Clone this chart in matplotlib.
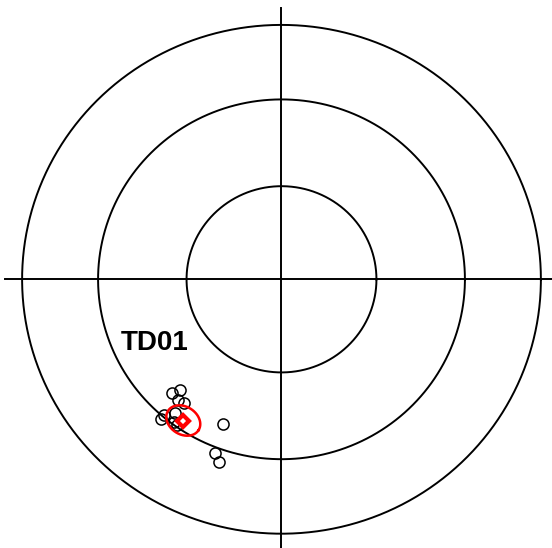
import numpy as np
import matplotlib.pyplot as plt

# site TD01 directions (declination, inclination), upper hemisphere
dec = [223.4, 222.1, 220.0, 217.5, 220.3, 220.3, 218.0, 216.5, 215.1, 201.5, 200.5, 198.5]
inc = [-38.3, -41.0, -38.2, -38.5, -30.7, -29.0, -33.7, -30.9, -30.6, -38.6, -28.1, -25.4]

# Fisher mean and alpha95
mean_dec, mean_inc, a95 = 214.3, -33.2, 5.0

site = "TD01"
inc_circles = [60, 30, 0]


def eqarea(d, i):
    d = np.radians(np.asarray(d, dtype=float))
    i = np.radians(np.abs(np.asarray(i, dtype=float)))
    r = np.sqrt(2) * np.sin((np.pi / 2 - i) / 2)
    return r * np.sin(d), r * np.cos(d)


def small_circle(d0, i0, a, n=200):
    # points at angular distance a around direction (d0, i0)
    d0, i0, a = np.radians(d0), np.radians(abs(i0)), np.radians(a)
    c = np.array([np.cos(i0) * np.cos(d0), np.cos(i0) * np.sin(d0), np.sin(i0)])
    u = np.cross(c, [0, 0, 1.0])
    u /= np.linalg.norm(u)
    v = np.cross(c, u)
    t = np.linspace(0, 2 * np.pi, n)
    p = (np.cos(a) * c[:, None] + np.sin(a) * (np.cos(t) * u[:, None] + np.sin(t) * v[:, None]))
    dd = np.degrees(np.arctan2(p[1], p[0]))
    ii = np.degrees(np.arcsin(p[2]))
    return eqarea(dd, ii)


fig = plt.figure(figsize=(5.52, 5.48), dpi=100)
ax = fig.add_axes([0, 0, 1, 1])
ax.set_xlim(-1.0852, 1.0428)
ax.set_ylim(-1.0562, 1.0979)
ax.axis('off')

# inclination circles and cross
t = np.linspace(0, 2 * np.pi, 400)
for ic in inc_circles:
    r = np.sqrt(2) * np.sin(np.radians(90 - ic) / 2)
    ax.plot(r * np.cos(t), r * np.sin(t), color='black', lw=1.4)
ax.plot([-1.065, 1.065], [0, 0], color='black', lw=1.4)
ax.plot([0, 0], [-1.065, 1.065], color='black', lw=1.4)

x, y = eqarea(dec, inc)
ax.plot(x, y, 'o', ms=8, mfc='none', mec='black', mew=1.1, ls='none')

ex, ey = small_circle(mean_dec, mean_inc, a95)
ax.plot(ex, ey, color='red', lw=1.8)
mx, my = eqarea(mean_dec, mean_inc)
ax.plot(mx, my, 'D', ms=6, mfc='white', mec='red', mew=3)

ax.text(-0.619, -0.278, site, fontsize=20, fontweight='bold',
        family='Liberation Sans', ha='left', va='baseline')

plt.savefig('out.png', dpi=100)
